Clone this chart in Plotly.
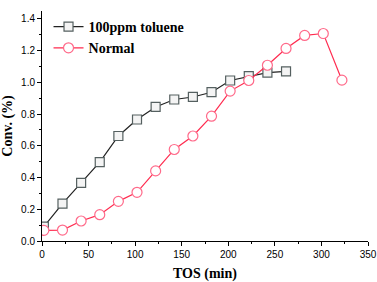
import plotly.graph_objects as go

tos_toluene = [2, 22, 42, 62, 82, 102, 122, 142, 162, 182, 202, 222, 242, 262]
conv_toluene = [0.09, 0.236, 0.366, 0.497, 0.662, 0.766, 0.845, 0.892, 0.908, 0.938, 1.012, 1.039, 1.062, 1.07]
tos_normal = [2, 22, 42, 62, 82, 102, 122, 142, 162, 182, 202, 222, 242, 262, 282, 302, 322]
conv_normal = [0.067, 0.069, 0.126, 0.166, 0.25, 0.307, 0.442, 0.577, 0.662, 0.787, 0.945, 1.012, 1.108, 1.214, 1.296, 1.308, 1.014]

fig = go.Figure()
fig.add_trace(go.Scatter(
    x=tos_toluene, y=conv_toluene, mode="lines+markers", name="100ppm toluene",
    line=dict(color="#222222", width=1.2),
    marker=dict(symbol="square", size=9, color="#f4f4f4", line=dict(color="#556060", width=1.2)),
))
fig.add_trace(go.Scatter(
    x=tos_normal, y=conv_normal, mode="lines+markers", name="Normal",
    line=dict(color="#ff2b4f", width=1.2),
    marker=dict(symbol="circle", size=10, color="white", line=dict(color="#ff6a8a", width=1.2)),
))

axis_common = dict(
    showline=True, linecolor="black", linewidth=1, showgrid=False, zeroline=False,
    ticks="outside", ticklen=4, tickcolor="black", tickwidth=1,
    tickfont=dict(family="Liberation Sans, Arial", size=10, color="black"),
    mirror=False, automargin=False,
)
fig.update_xaxes(
    range=[0, 350], dtick=50, tick0=0,
    minor=dict(ticks="outside", ticklen=2, dtick=25, tickcolor="black"),
    title=dict(text="<b>TOS (min)</b>", font=dict(family="Liberation Serif, Times New Roman", size=14, color="black"), standoff=9),
    **axis_common,
)
fig.update_yaxes(
    range=[0, 1.45], dtick=0.2, tick0=0, tickformat=".1f",
    minor=dict(ticks="outside", ticklen=2, dtick=0.1, tickcolor="black"),
    title=dict(text="<b>Conv. (%)</b>", font=dict(family="Liberation Serif, Times New Roman", size=14, color="black"), standoff=5),
    **axis_common,
)
fig.update_layout(
    width=377, height=282,
    margin=dict(l=42, r=9, t=11, b=41),
    plot_bgcolor="white", paper_bgcolor="white",
    showlegend=True,
    legend=dict(
        x=0.02, y=1.0, xanchor="left", yanchor="top",
        font=dict(family="Liberation Serif, Times New Roman", size=14, color="black", weight="bold"),
        bgcolor="rgba(0,0,0,0)", tracegroupgap=0, itemwidth=30,
    ),
)
fig.write_html(
    "out.html",
    config={"displayModeBar": False},
    post_script="document.body.style.margin='0px';document.body.style.overflow='hidden';",
)
